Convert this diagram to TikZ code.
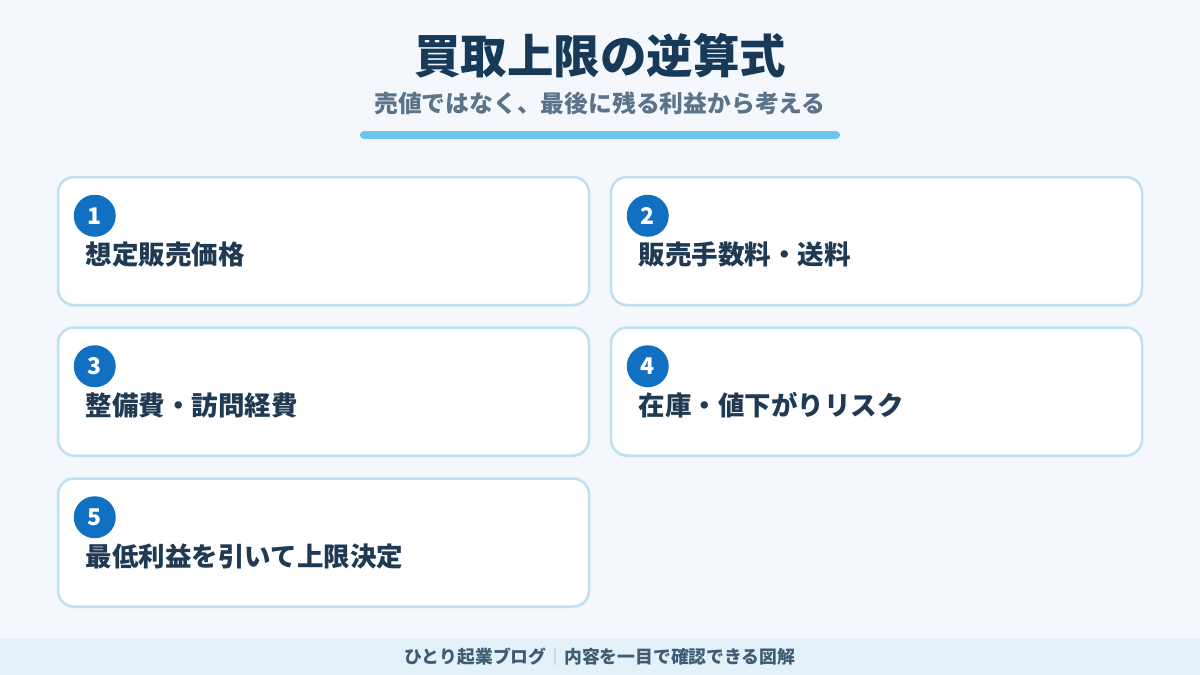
\documentclass[tikz,border=0pt]{standalone}
\usepackage{fontspec}
\newfontfamily\jp{Noto Sans CJK JP}
\usetikzlibrary{calc,positioning,shadows}
\definecolor{bgcol}{HTML}{F4F8FC}
\definecolor{titlecol}{HTML}{173A58}
\definecolor{subcol}{HTML}{5B7489}
\definecolor{barcol}{HTML}{6CC5EC}
\definecolor{edgecol}{HTML}{BEE0F0}
\definecolor{numcol}{HTML}{1170C2}
\definecolor{labelcol}{HTML}{1F3A52}
\definecolor{footcol}{HTML}{E4F1F8}
\definecolor{foottext}{HTML}{3E5C74}
\definecolor{pipecol}{HTML}{A9C7D8}
\tikzset{
  card/.style={draw=edgecol,line width=2.5pt,fill=white,rounded corners=16pt,minimum width=531pt,minimum height=128pt,inner sep=0pt,
    drop shadow={opacity=0.06,shadow xshift=0pt,shadow yshift=-2pt}},
  num/.style={circle,fill=numcol,minimum size=42pt,inner sep=0pt,text=white,font=\jp\bfseries\fontsize{23}{23}\selectfont},
  label/.style={anchor=west,inner sep=0pt,text=labelcol,font=\jp\bfseries\fontsize{26.5}{28}\selectfont}
}
\begin{document}
\begin{tikzpicture}[x=1pt,y=-1pt,line join=round,line cap=round]
		\useasboundingbox (0,0) rectangle (1200,675);
		\fill[bgcol] (0,0) rectangle (1200,675);
		% title block
		\node[text=titlecol,font=\jp\bfseries\fontsize{46.5}{50}\selectfont] (title) at (600,56) {買取上限の逆算式};
		\node[text=subcol,font=\jp\bfseries\fontsize{23.8}{25}\selectfont] (sub) at (600,103) {売値ではなく、最後に残る利益から考える};
		\draw[barcol,line width=8pt] (364,135) -- (836,135);
		% cards
		\foreach \i/\x/\y/\t in {1/323.5/241/想定販売価格,2/876.5/241/販売手数料・送料,3/323.5/391.5/整備費・訪問経費,4/876.5/391.5/在庫・値下がりリスク,5/323.5/542.5/最低利益を引いて上限決定}{
			\node[card] (c\i) at (\x,\y) {};
			\node[num] (n\i) at ($(c\i.north west)+(38,40)$) {\i};
			\node[label] (l\i) at ($(c\i.north west)+(29,79)$) {\t};
		}
		% footer
		\fill[footcol] (0,638) rectangle (1200,675);
		\node[text=foottext,font=\jp\bfseries\fontsize{17.8}{19}\selectfont] (foot) at (600,656.5) {ひとり起業ブログ\textcolor{pipecol}{｜}内容を一目で確認できる図解};
\end{tikzpicture}
\end{document}
